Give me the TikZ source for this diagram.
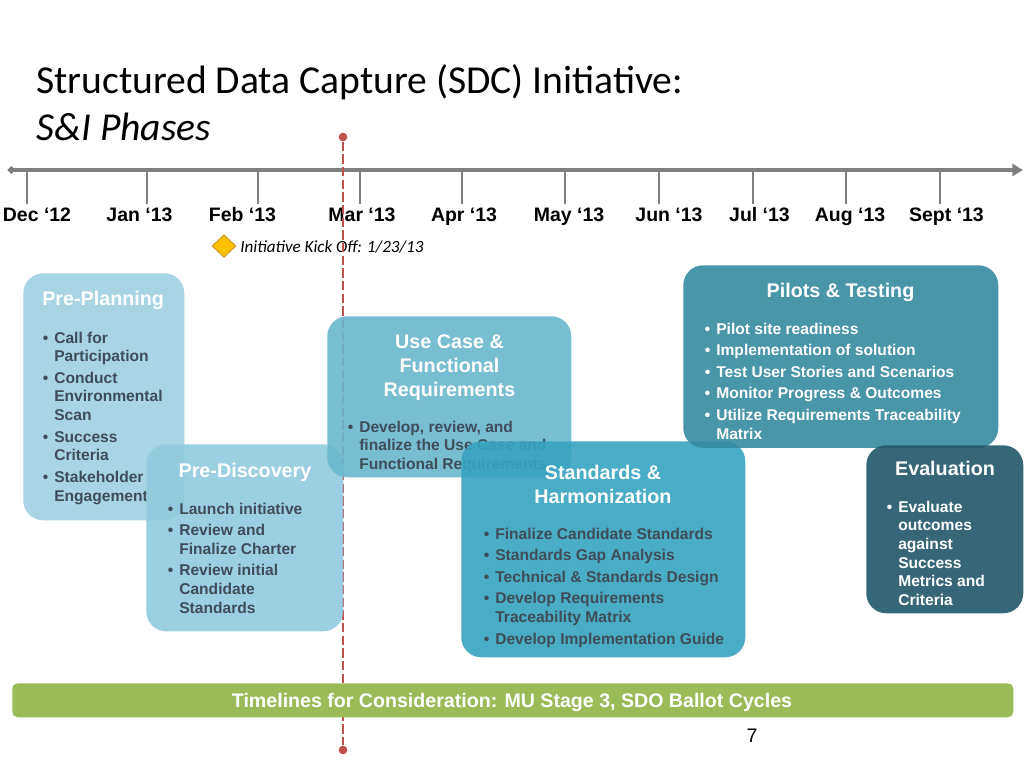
\documentclass[tikz,border=0pt]{standalone}
\usepackage{fontspec}
\setmainfont{Liberation Sans}
\newfontfamily\calfont{Carlito}
\usetikzlibrary{arrows.meta,shapes.geometric}
\definecolor{tlgray}{HTML}{7F7F7F}
\definecolor{redline}{HTML}{C0504D}
\definecolor{ppfill}{HTML}{9ED1E2}
\definecolor{pdfill}{HTML}{90CBDE}
\definecolor{ucfill}{HTML}{69B7CF}
\definecolor{shfill}{HTML}{37A3C0}
\definecolor{ptfill}{HTML}{368AA1}
\definecolor{evfill}{HTML}{21576B}
\definecolor{btxt}{HTML}{3F4D59}
\definecolor{gbar}{HTML}{9BBB59}
\definecolor{gold}{HTML}{FFC000}
\definecolor{golddark}{HTML}{C8961E}
\newcommand{\bi}{\llap{\textbullet\hspace{4.5pt}}}
\newcommand{\blist}[1]{\begin{tabular}[t]{@{}l@{}}#1\end{tabular}}
\newcommand{\clist}[1]{\begin{tabular}[t]{@{}c@{}}#1\end{tabular}}
\newcommand{\gp}{2.2pt}
\tikzset{
  timeline/.style={line width=2.6pt, color=tlgray, {Circle[length=5pt,width=5pt]}-{Triangle[length=8pt,width=9pt]}},
  tickline/.style={line width=2.2pt, color=tlgray},
  month/.style={font=\bfseries\fontsize{14.6}{17}\selectfont, inner sep=0, anchor=base},
  reddash/.style={line width=2.2pt, color=redline, dash pattern=on 7pt off 2.5pt},
  reddot/.style={circle, fill=redline, inner sep=0, minimum size=6.5pt},
  phase/.style={rounded corners=15pt, fill opacity=0.9, draw=none, inner sep=0, anchor=north west},
  ttl/.style={text=white, font=\bfseries\fontsize{14.8}{18}\selectfont, inner sep=0, anchor=base},
  blt/.style={font=\bfseries\fontsize{11.7}{14}\selectfont, inner sep=0, anchor=base west, text=#1},
  blt/.default=btxt
}
\begin{document}
\begin{tikzpicture}[x=0.75pt,y=-0.75pt]
\useasboundingbox (0,0) rectangle (1024,768);
\fill[white] (0,0) rectangle (1024,768);

% title
\node[anchor=base west, inner sep=0, font=\calfont\fontsize{29.7}{36}\selectfont] (title) at (36,93) {Structured Data Capture (SDC) Initiative:};
\node[anchor=base west, inner sep=0, font=\calfont\itshape\fontsize{29.7}{36}\selectfont] (subtitle) at (36,140) {S\&I Phases};

% timeline
\coordinate (tlL) at (8,170);
\coordinate (tlR) at (1023,170);
\draw[timeline] (tlL) -- (tlR);
\foreach \tx/\lx/\lab [count=\i] in {27/37/Dec ‘12, 147/139.5/Jan ‘13, 258/242.5/Feb ‘13, 360/362/Mar ‘13, 462/464/Apr ‘13, 565/569/May ‘13, 659/669/Jun ‘13, 753/759.5/Jul ‘13, 846/850/Aug ‘13, 940/946.5/Sept ‘13}{
  \draw[tickline] (\tx,170) -- (\tx,204);
  \node[month] (m\i) at (\lx,221) {\lab};
}

% kick off
\node[diamond, fill=gold, draw=golddark, line width=0.6pt, minimum width=18pt, minimum height=17pt, inner sep=0] (kick) at (224,246) {};
\node[anchor=base west, inner sep=0, font=\calfont\itshape\fontsize{12.8}{15}\selectfont] (kicktxt) at (240,252) {Initiative Kick Off: 1/23/13};

% red dashed line
\node[reddot] (rTop) at (343,137) {};
\node[reddot] (rBot) at (343,750) {};
\draw[reddash] (rTop) -- (rBot);

% Pre-Planning
\node[phase, fill=ppfill, minimum width=120.75pt, minimum height=185.25pt] (pp) at (23,273) {};
\node[ttl, anchor=base west] (ppT) at (42,305) {Pre-Planning};
\node[blt] (ppB) at (54,343) {\blist{\bi Call for\\ Participation\\[\gp] \bi Conduct\\ Environmental\\ Scan\\[\gp] \bi Success\\ Criteria\\[\gp] \bi Stakeholder\\ Engagement}};

% Pre-Discovery
\node[phase, fill=pdfill, minimum width=147.75pt, minimum height=140.25pt] (pd) at (146,444) {};
\node[ttl] (pdT) at (245,477) {Pre-Discovery};
\node[blt] (pdB) at (179,514) {\blist{\bi Launch initiative\\[\gp] \bi Review and\\ Finalize Charter\\[\gp] \bi Review initial\\ Candidate\\ Standards}};

% Use Case
\node[phase, fill=ucfill, minimum width=183pt, minimum height=120.75pt] (uc) at (327,316) {};
\node[ttl] (ucT) at (449.5,348) {\clist{Use Case \&\\ Functional\\ Requirements}};
\node[blt] (ucB) at (359,432) {\blist{\bi Develop, review, and\\ finalize the Use Case and\\ Functional Requirements}};

% Standards
\node[phase, fill=shfill, minimum width=213pt, minimum height=162pt] (sh) at (461,441) {};
\node[ttl] (shT) at (603,479) {\clist{Standards \&\\ Harmonization}};
\node[blt] (shB) at (495,539) {\blist{\bi Finalize Candidate Standards\\[\gp] \bi Standards Gap Analysis\\[\gp] \bi Technical \& Standards Design\\[\gp] \bi Develop Requirements\\ Traceability Matrix\\[\gp] \bi Develop Implementation Guide}};

% Pilots
\node[phase, fill=ptfill, minimum width=236.25pt, minimum height=137pt] (pt) at (683,265) {};
\node[ttl] (ptT) at (840.5,297) {Pilots \& Testing};
\node[blt=white] (ptB) at (716,334) {\blist{\bi Pilot site readiness\\[\gp] \bi Implementation of solution\\[\gp] \bi Test User Stories and Scenarios\\[\gp] \bi Monitor Progress \& Outcomes\\[\gp] \bi Utilize Requirements Traceability\\ Matrix}};

% Evaluation
\node[phase, fill=evfill, minimum width=117.75pt, minimum height=126pt] (ev) at (866,445) {};
\node[ttl] (evT) at (945,475) {Evaluation};
\node[blt=white] (evB) at (898,512) {\blist{\bi Evaluate\\ outcomes\\ against\\ Success\\ Metrics and\\ Criteria}};

% green bar
\node[fill=gbar, rounded corners=4pt, minimum width=750.75pt, minimum height=25.5pt, inner sep=0, anchor=north west] (bar) at (12,683) {};
\node[anchor=base, inner sep=0, text=white, font=\bfseries\fontsize{14.7}{17}\selectfont] (barT) at (512,707) {Timelines for Consideration: MU Stage 3, SDO Ballot Cycles};

% page number
\node[anchor=base, inner sep=0, font=\fontsize{14.7}{17}\selectfont] (pg) at (752,742) {7};
\end{tikzpicture}
\end{document}
